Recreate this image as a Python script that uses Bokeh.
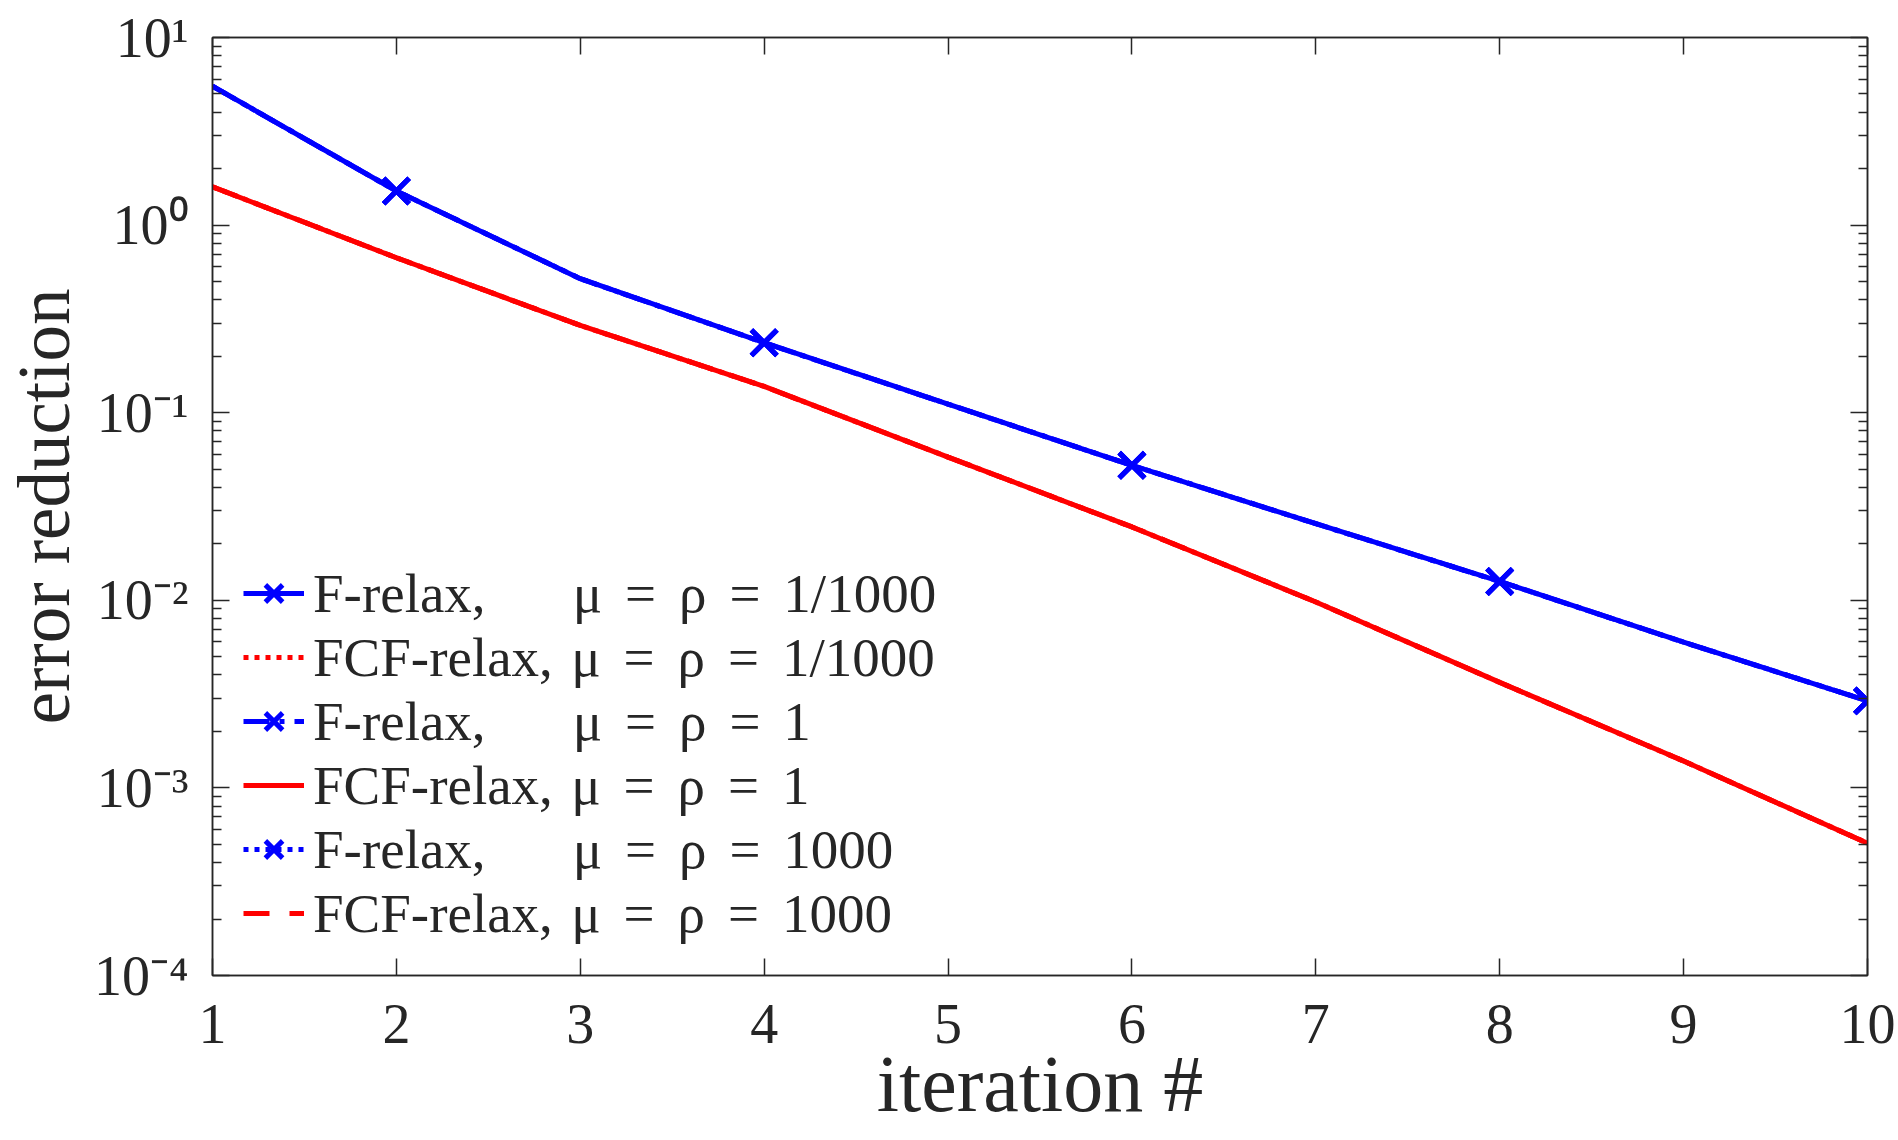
from bokeh.plotting import figure
from bokeh.models import (Range1d, FixedTicker, LogAxis, LinearAxis, Legend,
                          LegendItem, ColumnDataSource)
from bokeh.embed import file_html
from bokeh.resources import INLINE

# ---------------- data ----------------
iterations = [1, 2, 3, 4, 5, 6, 7, 8, 9, 10]
f_relax_small = [5.5, 1.52, 0.518, 0.236, 0.111, 0.0524, 0.0256, 0.0126, 0.00598, 0.00291]
fcf_relax_small = [1.60, 0.67, 0.292, 0.138, 0.058, 0.0246, 0.0098, 0.00365, 0.00139, 0.000507]
f_relax_one = [5.5, 1.52, 0.518, 0.236, 0.111, 0.0524, 0.0256, 0.0126, 0.00598, 0.00291]
fcf_relax_one = [1.60, 0.67, 0.292, 0.138, 0.058, 0.0246, 0.0098, 0.00365, 0.00139, 0.000507]
f_relax_large = [5.5, 1.52, 0.518, 0.236, 0.111, 0.0524, 0.0256, 0.0126, 0.00598, 0.00291]
fcf_relax_large = [1.60, 0.67, 0.292, 0.138, 0.058, 0.0246, 0.0098, 0.00365, 0.00139, 0.000507]
marker_iterations = [2, 4, 6, 8, 10]

series_names = ["F-relax,", "FCF-relax,", "F-relax,", "FCF-relax,", "F-relax,", "FCF-relax,"]
series_params = ["1/1000", "1/1000", "1", "1", "1000", "1000"]

x_ticks = [1, 2, 3, 4, 5, 6, 7, 8, 9, 10]
y_exponents = [-4, -3, -2, -1, 0, 1]
y_tick_labels = ["10\u207b\u2074", "10\u207b\u00b3", "10\u207b\u00b2", "10\u207b\u00b9", "10\u2070", "10\u00b9"]
x_label = "iteration #"
y_label = "error reduction"

# ---------------- styling ----------------
FONT = "Liberation Serif"
TXT = "#262626"
BLUE = "#0000FF"
RED = "#FF0000"
LW = 5

p = figure(width=1898, height=1140, x_range=Range1d(1, 10), y_range=Range1d(1e-4, 10),
           y_axis_type="log", output_backend="svg", toolbar_location=None,
           min_border_left=212, min_border_right=31, min_border_top=37, min_border_bottom=165)
p.xgrid.visible = False
p.ygrid.visible = False
p.outline_line_color = TXT
p.outline_line_width = 1.5
p.background_fill_color = "white"
p.border_fill_color = "white"

y_ticks = [10.0 ** k for k in y_exponents]
y_minor = [m * 10.0 ** k for k in y_exponents[:-1] for m in range(2, 10)]

def style_axis(ax):
    ax.axis_line_color = TXT
    ax.axis_line_width = 1.5
    ax.major_tick_line_color = TXT
    ax.major_tick_line_width = 1.5
    ax.minor_tick_line_color = TXT
    ax.minor_tick_line_width = 1.5
    ax.major_tick_in = 17
    ax.major_tick_out = 0
    ax.minor_tick_in = 9
    ax.minor_tick_out = 0

# bottom axis
xa = p.xaxis[0]
xa.ticker = FixedTicker(ticks=x_ticks, minor_ticks=[])
style_axis(xa)
xa.major_label_text_font = FONT
xa.major_label_text_font_size = "56px"
xa.major_label_text_color = TXT
xa.major_label_standoff = 29
xa.axis_label = x_label
xa.axis_label_text_font = FONT
xa.axis_label_text_font_size = "80px"
xa.axis_label_text_font_style = "normal"
xa.axis_label_text_color = TXT
xa.axis_label_standoff = -6

# left axis
ya = p.yaxis[0]
ya.ticker = FixedTicker(ticks=y_ticks, minor_ticks=y_minor)
style_axis(ya)
ya.major_label_overrides = {t: lab for t, lab in zip(y_ticks, y_tick_labels)}
ya.major_label_text_font = FONT
ya.major_label_text_font_size = "56px"
ya.major_label_text_color = TXT
ya.major_label_standoff = 24
ya.axis_label = y_label
ya.axis_label_text_font = FONT
ya.axis_label_text_font_size = "73px"
ya.axis_label_text_font_style = "normal"
ya.axis_label_text_color = TXT
ya.axis_label_standoff = 6

# mirrored axes (box on)
ra = LogAxis(ticker=FixedTicker(ticks=y_ticks, minor_ticks=y_minor))
style_axis(ra)
ra.major_label_overrides = {t: "" for t in y_ticks}
ra.major_label_text_font_size = "10px"
ra.major_label_standoff = 0
p.add_layout(ra, "right")

ta = LinearAxis(ticker=FixedTicker(ticks=x_ticks, minor_ticks=[]))
style_axis(ta)
ta.major_label_overrides = {t: "" for t in x_ticks}
ta.major_label_text_font_size = "10px"
ta.major_label_standoff = 0
p.add_layout(ta, "above")

# ---------------- series ----------------
series_values = [f_relax_small, fcf_relax_small, f_relax_one, fcf_relax_one, f_relax_large, fcf_relax_large]
series_colors = [BLUE, RED, BLUE, RED, BLUE, RED]
series_dash = ["solid", "5 6", "26 10 5 10", "solid", "5 6", "26 20"]
series_marker = [True, False, True, False, True, False]

SP = "\u2004\u200a"  # wider math spacing around '='
items = []
for vals, col, dash, mk, nm, par in zip(series_values, series_colors, series_dash,
                                         series_marker, series_names, series_params):
    rends = []
    ln = p.line(iterations, vals, line_color=col, line_width=LW, line_dash=dash)
    rends.append(ln)
    if mk:
        ys = [vals[iterations.index(i)] for i in marker_iterations]
        src = ColumnDataSource(dict(x=marker_iterations, y=ys))
        sc = p.scatter("x", "y", source=src, marker="x", size=36, line_color=col, line_width=LW)
        rends.append(sc)
    pad = ("\u00a0" * 6 if nm == "F-relax," else "\u00a0") + "\u200a"
    label = nm + pad + "\u03bc" + SP + "=" + SP + "\u03c1" + SP + "=" + SP + par
    items.append(LegendItem(label=label, renderers=rends))

legend = Legend(items=items, location=(31, 30), orientation="vertical",
                glyph_width=61, glyph_height=64, label_height=64, label_standoff=9,
                spacing=0, padding=0, margin=0, border_line_alpha=0, background_fill_alpha=0,
                label_text_font=FONT, label_text_font_size="55px", label_text_color=TXT)
p.add_layout(legend)

open("out.html", "w").write(file_html(p, INLINE))
